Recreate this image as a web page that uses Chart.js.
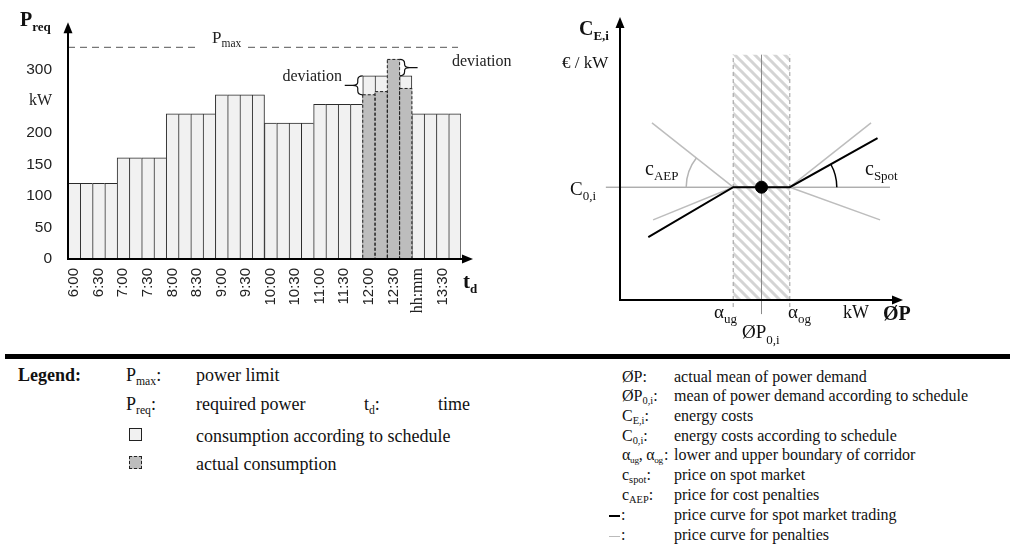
<!DOCTYPE html>
<html lang="en">
<head>
<meta charset="UTF-8">
<title>Power demand and energy costs</title>
<script src="https://cdn.jsdelivr.net/npm/chart.js@4.4.1/dist/chart.umd.min.js"></script>
<style>
    body {
        margin: 0;
        background: #fff;
        width: 1010px;
        height: 546px;
        position: relative;
        overflow: hidden;
        font-family: 'Liberation Serif', serif;
        color: #111;
    }
    #loadChart { position: absolute; left: 0; top: 0; }
    #costChart { position: absolute; left: 530px; top: 0; }
    .sep { position: absolute; left: 5px; top: 354px; width: 1005px; height: 5px; background: #000; }
    .lg { position: absolute; white-space: nowrap; line-height: 1; }
    .big { font-size: 18px; }
    .small { font-size: 16px; }
    .lg sub { font-size: 65%; vertical-align: baseline; position: relative; top: 0.3em; }
    .lg.tight sub { font-size: 58%; }
    .box { position: absolute; width: 13px; height: 13px; box-sizing: border-box; }
    .dash { display: inline-block; width: 11px; height: 0; vertical-align: middle; margin-right: 1px; }
</style>
</head>
<body>
<canvas id="loadChart" width="530" height="340"></canvas>
<canvas id="costChart" width="480" height="354"></canvas>
<div class="sep"></div>

<!-- legend, left part -->
<div class="lg big" style="left:18px; top:366px; font-weight:bold;">Legend:</div>
<div class="lg big" style="left:126px; top:366px;">P<sub>max</sub>:</div>
<div class="lg big" style="left:196px; top:366px;">power limit</div>
<div class="lg big" style="left:126px; top:395px;">P<sub>req</sub>:</div>
<div class="lg big" style="left:196px; top:395px;">required power</div>
<div class="lg big" style="left:364px; top:395px;">t<sub>d</sub>:</div>
<div class="lg big" style="left:438px; top:395px;">time</div>
<div class="box" style="left:129px; top:428px; background:#f1f1f1; border:1.5px solid #222;"></div>
<div class="lg big" style="left:196px; top:427px;">consumption according to schedule</div>
<div class="box" style="left:129px; top:456px; background:#bdbdbd; border:1.5px dashed #222;"></div>
<div class="lg big" style="left:196px; top:455px;">actual consumption</div>

<!-- legend, right part -->
<div class="lg small" style="left:622px; top:369px;">ØP:</div>
<div class="lg small" style="left:674px; top:369px;">actual mean of power demand</div>
<div class="lg small" style="left:622px; top:388px;">ØP<sub>0,i</sub>:</div>
<div class="lg small" style="left:674px; top:388px;">mean of power demand according to schedule</div>
<div class="lg small" style="left:622px; top:408px;">C<sub>E,i</sub>:</div>
<div class="lg small" style="left:674px; top:408px;">energy costs</div>
<div class="lg small" style="left:622px; top:428px;">C<sub>0,i</sub>:</div>
<div class="lg small" style="left:674px; top:428px;">energy costs according to schedule</div>
<div class="lg small tight" style="left:622px; top:447px; letter-spacing:-0.3px;">α<sub>ug</sub>, α<sub>og</sub>&#8202;:</div>
<div class="lg small" style="left:674px; top:447px;">lower and upper boundary of corridor</div>
<div class="lg small" style="left:622px; top:467px;">c<sub>spot</sub>:</div>
<div class="lg small" style="left:674px; top:467px;">price on spot market</div>
<div class="lg small" style="left:622px; top:487px;">c<sub>AEP</sub>:</div>
<div class="lg small" style="left:674px; top:487px;">price for cost penalties</div>
<div class="lg small" style="left:609px; top:507px;"><span class="dash" style="border-top:2px solid #000;"></span>:</div>
<div class="lg small" style="left:674px; top:507px;">price curve for spot market trading</div>
<div class="lg small" style="left:609px; top:527px;"><span class="dash" style="border-top:1.5px solid #bbb;"></span>:</div>
<div class="lg small" style="left:674px; top:527px;">price curve for penalties</div>

<script>
// ---- left chart: required power per quarter hour ----
const categories = ['6:00', '6:15', '6:30', '6:45', '7:00', '7:15', '7:30', '7:45',
    '8:00', '8:15', '8:30', '8:45', '9:00', '9:15', '9:30', '9:45',
    '10:00', '10:15', '10:30', '10:45', '11:00', '11:15', '11:30', '11:45',
    '12:00', '12:15', '12:30', '12:45', '13:00', '13:15', '13:30', '13:45'];
const tickLabels = ['6:00', '6:30', '7:00', '7:30', '8:00', '8:30', '9:00', '9:30',
    '10:00', '10:30', '11:00', '11:30', '12:00', '12:30', 'hh:mm', '13:30'];
const scheduled = [120, 120, 120, 120, 160, 160, 160, 160, 230, 230, 230, 230, 260, 260, 260, 260,
    215, 215, 215, 215, 245, 245, 245, 245, 290, 290, 290, 290, 230, 230, 230, 230];
const actual = [null, null, null, null, null, null, null, null, null, null, null, null, null, null, null, null,
    null, null, null, null, null, null, null, null, 260, 265, 316, 270, null, null, null, null];
const pMax = 335;
const yTickStep = 50;
const yTickTop = 300;
const yUnitTick = 250;   // this tick shows the unit instead of a number
const yAxisMax = 370;

// ---- right chart: energy costs over mean power ----
const corridorLow = 40;
const corridorHigh = 60;
const corridorTop = 87;
const scheduledMean = 50;
const scheduledCost = 40;
const costLine = [{ x: -5, y: 40 }, { x: 95.4, y: 40 }];
const spotCurve = [{ x: 10, y: 22.3 }, { x: 40, y: 40 }, { x: 60, y: 40 }, { x: 91, y: 57.4 }];
const penaltyLeftUp = [{ x: 11.3, y: 62.8 }, { x: 40, y: 40 }];
const penaltyLeftDown = [{ x: 11.7, y: 28.4 }, { x: 40, y: 40 }];
const penaltyRightUp = [{ x: 60, y: 40 }, { x: 88.7, y: 62.8 }];
const penaltyRightDown = [{ x: 60, y: 40 }, { x: 91.9, y: 28.4 }];

const SERIF = '"Liberation Serif", "Times New Roman", serif';
const SANS = '"Liberation Sans", Arial, sans-serif';

function subText(ctx, main, sub, x, y, font, subFont, drop, align) {
    ctx.textBaseline = 'alphabetic';
    ctx.textAlign = 'left';
    ctx.font = font;
    const w = ctx.measureText(main).width;
    ctx.font = subFont;
    const ws = ctx.measureText(sub).width;
    if (align === 'right') x -= w + ws;
    ctx.font = font;
    ctx.fillText(main, x, y);
    ctx.font = subFont;
    ctx.fillText(sub, x + w, y + drop);
}

function arrow(ctx, x1, y1, x2, y2) {
    const ang = Math.atan2(y2 - y1, x2 - x1);
    const len = 11, half = 4.5;
    ctx.beginPath();
    ctx.moveTo(x1, y1);
    ctx.lineTo(x2 - Math.cos(ang) * (len - 2), y2 - Math.sin(ang) * (len - 2));
    ctx.stroke();
    ctx.beginPath();
    ctx.moveTo(x2, y2);
    ctx.lineTo(x2 - Math.cos(ang) * len - Math.sin(ang) * half, y2 - Math.sin(ang) * len + Math.cos(ang) * half);
    ctx.lineTo(x2 - Math.cos(ang) * len + Math.sin(ang) * half, y2 - Math.sin(ang) * len - Math.cos(ang) * half);
    ctx.closePath();
    ctx.fill();
}

// curly brace; dir -1 points left, +1 points right
function brace(ctx, x, yTop, yBot, dir, tick) {
    const m = (yTop + yBot) / 2, d = 5 * dir;
    ctx.beginPath();
    ctx.moveTo(x, yTop);
    ctx.quadraticCurveTo(x + d, yTop, x + d, yTop + 4);
    ctx.lineTo(x + d, m - 3);
    ctx.quadraticCurveTo(x + d, m, x + 2 * d, m);
    ctx.quadraticCurveTo(x + d, m, x + d, m + 3);
    ctx.lineTo(x + d, yBot - 4);
    ctx.quadraticCurveTo(x + d, yBot, x, yBot);
    ctx.moveTo(x + 2 * d, m);
    ctx.lineTo(x + 2 * d + tick * dir, m);
    ctx.stroke();
}

const loadDecor = {
    id: 'loadDecor',
    afterDatasetsDraw(chart) {
        const { ctx, chartArea: a, scales: { y } } = chart;
        ctx.save();

        // dashed outline of the actual consumption
        const act = chart.getDatasetMeta(1);
        ctx.strokeStyle = '#222';
        ctx.lineWidth = 1;
        ctx.setLineDash([3, 2]);
        act.data.forEach((bar, i) => {
            if (actual[i] == null) return;
            ctx.strokeRect(bar.x - bar.width / 2, bar.y, bar.width, bar.base - bar.y);
        });

        // power limit
        const yMax = y.getPixelForValue(pMax);
        ctx.strokeStyle = '#777';
        ctx.lineWidth = 1.2;
        ctx.setLineDash([7, 5]);
        ctx.beginPath();
        ctx.moveTo(a.left, yMax);
        ctx.lineTo(a.right - 3, yMax);
        ctx.stroke();
        ctx.setLineDash([]);
        ctx.fillStyle = '#fff';
        ctx.fillRect(197, yMax - 3, 50, 6);
        ctx.fillStyle = '#222';
        subText(ctx, 'P', 'max', 212, 43, '17px ' + SERIF, '11.5px ' + SERIF, 4);

        // deviation braces
        const sch = chart.getDatasetMeta(0);
        ctx.strokeStyle = '#111';
        ctx.lineWidth = 1.2;
        const b24 = sch.data[24], b26 = sch.data[26];
        brace(ctx, b24.x - b24.width / 2, y.getPixelForValue(scheduled[24]), y.getPixelForValue(actual[24]), -1, 8);
        brace(ctx, b26.x + b26.width / 2, y.getPixelForValue(actual[26]), y.getPixelForValue(scheduled[26]), 1, 8);
        ctx.fillStyle = '#222';
        ctx.font = '16px ' + SERIF;
        ctx.textAlign = 'right';
        ctx.fillText('deviation', 342, 81);
        ctx.textAlign = 'left';
        ctx.fillText('deviation', 452, 66);

        // axes with arrow heads
        ctx.strokeStyle = '#000';
        ctx.fillStyle = '#000';
        ctx.lineWidth = 2;
        arrow(ctx, a.left, a.bottom + 1, a.left, a.top - 3);
        arrow(ctx, a.left - 1, a.bottom, a.right + 12, a.bottom);

        // axis titles
        ctx.fillStyle = '#111';
        subText(ctx, 'P', 'req', 20, 26, 'bold 20px ' + SERIF, 'bold 13px ' + SERIF, 5);
        subText(ctx, 't', 'd', 463, 288, 'bold 21px ' + SERIF, 'bold 13px ' + SERIF, 5);
        ctx.restore();
    }
};

new Chart(document.getElementById('loadChart'), {
    type: 'bar',
    data: {
        labels: categories,
        datasets: [{
            label: 'consumption according to schedule',
            data: scheduled,
            backgroundColor: '#f1f1f1',
            borderColor: '#2b2b2b',
            borderSkipped: false,
            borderWidth: (c) => {
                const i = c.dataIndex;
                const next = scheduled[i + 1];
                return { top: 1, left: 1, bottom: 0, right: (next === undefined || next < scheduled[i]) ? 1 : 0 };
            },
            grouped: false,
            barPercentage: 1,
            categoryPercentage: 1,
            order: 2
        }, {
            label: 'actual consumption',
            data: actual,
            backgroundColor: '#bdbdbd',
            borderWidth: 0,
            grouped: false,
            barPercentage: 1,
            categoryPercentage: 1,
            order: 1
        }]
    },
    options: {
        responsive: false,
        animation: false,
        layout: { padding: { top: 12, right: 69, left: 0, bottom: 0 } },
        plugins: { legend: { display: false }, tooltip: { enabled: false } },
        scales: {
            x: {
                grid: { display: false, drawTicks: false },
                border: { display: false },
                afterFit: (s) => { s.height = 81; },
                ticks: {
                    autoSkip: false,
                    minRotation: 90,
                    maxRotation: 90,
                    padding: 9,
                    color: '#222',
                    font: (c) => c.index === 28 ? { family: SERIF, size: 16 } : { family: SANS, size: 15 },
                    callback: (v, i) => i % 2 === 0 ? tickLabels[i / 2] : ''
                }
            },
            y: {
                min: 0,
                max: yAxisMax,
                grid: { display: false, drawTicks: false },
                border: { display: false },
                afterFit: (s) => { s.width = 68; },
                afterBuildTicks: (s) => { s.ticks = s.ticks.filter(t => t.value <= yTickTop); },
                ticks: {
                    stepSize: yTickStep,
                    padding: 16,
                    color: '#222',
                    font: (c) => c.tick && c.tick.value === yUnitTick ? { family: SERIF, size: 16 } : { family: SANS, size: 15.5 },
                    callback: (v) => v === yUnitTick ? 'kW' : v
                }
            }
        }
    },
    plugins: [loadDecor]
});

// ---- right chart ----
function hatchPattern() {
    const c = document.createElement('canvas');
    c.width = 10;
    c.height = 10;
    const g = c.getContext('2d');
    g.strokeStyle = '#d4d4d4';
    g.lineWidth = 3;
    g.beginPath();
    g.moveTo(-5, -5); g.lineTo(15, 15);
    g.moveTo(-5, 5); g.lineTo(5, 15);
    g.moveTo(5, -5); g.lineTo(15, 5);
    g.stroke();
    return g.createPattern(c, 'repeat');
}

const costDecor = {
    id: 'costDecor',
    afterDatasetsDraw(chart) {
        const { ctx, chartArea: a, scales: { x, y } } = chart;
        ctx.save();
        const x0 = x.getPixelForValue(0), y0 = y.getPixelForValue(0);
        const yc = y.getPixelForValue(scheduledCost);

        // angle markers
        ctx.lineWidth = 1.5;
        const lx = x.getPixelForValue(corridorLow);
        const pl = penaltyLeftUp[0];
        const angL = Math.atan2(y.getPixelForValue(pl.y) - yc, x.getPixelForValue(pl.x) - lx);
        ctx.strokeStyle = '#b5b5b5';
        ctx.beginPath();
        ctx.arc(lx, yc, 47, -Math.PI, angL);
        ctx.stroke();
        const rx = x.getPixelForValue(corridorHigh);
        const sp = spotCurve[spotCurve.length - 1];
        const angR = Math.atan2(y.getPixelForValue(sp.y) - yc, x.getPixelForValue(sp.x) - rx);
        ctx.strokeStyle = '#000';
        ctx.beginPath();
        ctx.arc(rx, yc, 47, angR, 0);
        ctx.stroke();

        // axes
        ctx.strokeStyle = '#000';
        ctx.fillStyle = '#000';
        ctx.lineWidth = 2;
        arrow(ctx, x0, y0 + 1, x0, a.top - 1);
        arrow(ctx, x0 - 1, y0, a.right, y0);

        // labels
        ctx.fillStyle = '#111';
        const ox = -530;   // canvas sits 530px from the page edge
        subText(ctx, 'C', 'E,i', 579 + ox, 35, 'bold 20px ' + SERIF, 'bold 13px ' + SERIF, 5);
        ctx.font = '17px ' + SERIF;
        ctx.fillText('€ / kW', 562 + ox, 68);
        subText(ctx, 'C', '0,i', 570 + ox, 195, '19px ' + SERIF, '13px ' + SERIF, 5);
        subText(ctx, 'c', 'AEP', 645 + ox, 175, '20px ' + SERIF, '13px ' + SERIF, 5);
        subText(ctx, 'c', 'Spot', 865 + ox, 175, '20px ' + SERIF, '13px ' + SERIF, 5);
        subText(ctx, 'α', 'ug', 714 + ox, 318, '19px ' + SERIF, '13px ' + SERIF, 5);
        subText(ctx, 'α', 'og', 788 + ox, 318, '19px ' + SERIF, '13px ' + SERIF, 5);
        subText(ctx, 'ØP', '0,i', 742 + ox, 338, '19px ' + SERIF, '13px ' + SERIF, 6);
        ctx.font = '18px ' + SERIF;
        ctx.fillText('kW', 843 + ox, 318);
        ctx.font = 'bold 20px ' + SERIF;
        ctx.fillText('ØP', 883 + ox, 320);
        ctx.restore();
    }
};

function seg(data, color, width, order, dash) {
    return {
        data: data,
        borderColor: color,
        borderWidth: width,
        borderDash: dash || [],
        pointRadius: 0,
        fill: false,
        clip: false,
        order: order
    };
}

new Chart(document.getElementById('costChart'), {
    type: 'line',
    data: {
        datasets: [
            {
                data: [{ x: corridorLow, y: corridorTop }, { x: corridorHigh, y: corridorTop }],
                backgroundColor: hatchPattern(),
                borderWidth: 0,
                pointRadius: 0,
                fill: 'origin',
                clip: false,
                order: 10
            },
            seg([{ x: corridorLow, y: -2.5 }, { x: corridorLow, y: corridorTop }], '#9a9a9a', 1, 9, [4, 3]),
            seg([{ x: corridorHigh, y: -2.5 }, { x: corridorHigh, y: corridorTop }], '#9a9a9a', 1, 9, [4, 3]),
            seg([{ x: scheduledMean, y: -5 }, { x: scheduledMean, y: corridorTop }], '#8a8a8a', 1, 9),
            seg(costLine, '#8a8a8a', 1, 8),
            seg(penaltyLeftUp, '#bdbdbd', 1.5, 7),
            seg(penaltyLeftDown, '#bdbdbd', 1.5, 7),
            seg(penaltyRightUp, '#bdbdbd', 1.5, 7),
            seg(penaltyRightDown, '#bdbdbd', 1.5, 7),
            seg(spotCurve, '#000', 2, 6),
            {
                data: [{ x: scheduledMean, y: scheduledCost }],
                showLine: false,
                pointRadius: 6,
                pointBackgroundColor: '#000',
                pointBorderColor: '#000',
                clip: false,
                order: 1
            }
        ]
    },
    options: {
        responsive: false,
        animation: false,
        layout: { padding: { left: 90, right: 107, top: 18, bottom: 54 } },
        plugins: { legend: { display: false }, tooltip: { enabled: false } },
        scales: {
            x: { type: 'linear', min: 0, max: 100, display: false },
            y: { min: 0, max: 100, display: false }
        }
    },
    plugins: [costDecor]
});
</script>
</body>
</html>
